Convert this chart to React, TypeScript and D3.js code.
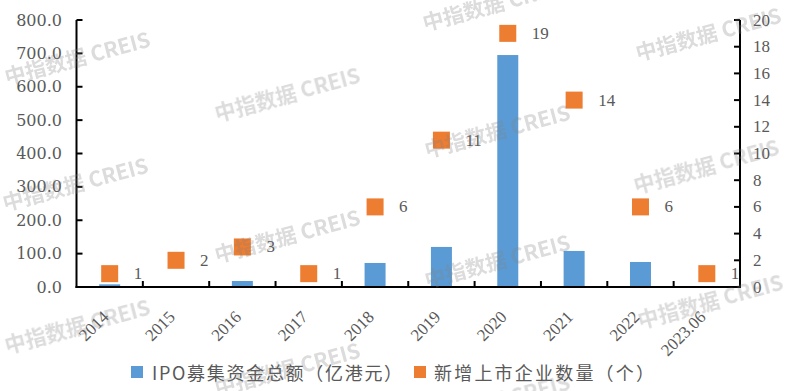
import React from 'react';
import * as d3 from 'd3';

const categories = ['2014', '2015', '2016', '2017', '2018', '2019', '2020', '2021', '2022', '2023.06'];
const ipoAmount = [8, 0, 18, 0, 72, 120, 695, 108, 75, 0];
const newListings = [1, 2, 3, 1, 6, 11, 19, 14, 6, 1];
const leftTicks = [0, 100, 200, 300, 400, 500, 600, 700, 800];
const rightTicks = [0, 2, 4, 6, 8, 10, 12, 14, 16, 18, 20];
const legendLabels = ['IPO募集资金总额（亿港元）', '新增上市企业数量（个）'];
const watermarkText = '中指数据 CREIS';
const watermarks = [
  [77, 57], [287, 93], [495, 3], [708, 33],
  [497, 130], [706, 165], [75, 183], [287, 235],
  [497, 260], [710, 300], [77, 325], [287, 368], [497, 400],
];

const width = 786;
const height = 391;
const plot = { left: 76.5, right: 740, top: 20, bottom: 287 };
const blue = '#5B9BD5';
const orange = '#ED7D31';
const grey = '#595959';
const serif = '"Liberation Serif", "DejaVu Serif", "Noto Sans CJK SC", serif';
const cjk = '"Noto Sans CJK SC", "Liberation Serif", sans-serif';

const App = () => {
  const x = d3.scaleBand().domain(categories).range([plot.left, plot.right]).padding(0);
  const yL = d3.scaleLinear().domain([0, 800]).range([plot.bottom, plot.top]);
  const yR = d3.scaleLinear().domain([0, 20]).range([plot.bottom, plot.top]);
  const fmt = d3.format('.1f');
  const bw = 21;
  const ms = 17;
  const cx = (c) => (x(c) as number) + x.bandwidth() / 2;

  return (
    <svg width={width} height={height} style={{ position: 'absolute', left: 0, top: 0, background: '#fff' }}>
      {/* bars */}
      {categories.map((c, i) => (
        <rect key={'b' + c} x={cx(c) - bw / 2} y={yL(ipoAmount[i])} width={bw}
          height={plot.bottom - yL(ipoAmount[i])} fill={blue} />
      ))}

      {/* axes */}
      <g stroke="#000" strokeWidth={2} fill="none">
        <line x1={plot.left} x2={plot.left} y1={plot.top} y2={plot.bottom + 1} />
        <line x1={plot.right} x2={plot.right} y1={plot.top} y2={plot.bottom + 1} />
        <line x1={plot.left - 1} x2={plot.right + 1} y1={plot.bottom} y2={plot.bottom} />
        {leftTicks.map((t) => (
          <line key={'lt' + t} x1={plot.left} x2={plot.left + 6} y1={yL(t)} y2={yL(t)} />
        ))}
        {rightTicks.map((t) => (
          <line key={'rt' + t} x1={plot.right - 6} x2={plot.right} y1={yR(t)} y2={yR(t)} />
        ))}
        {categories.slice(1).map((c) => (
          <line key={'xt' + c} x1={x(c)} x2={x(c)} y1={plot.bottom} y2={plot.bottom - 6} />
        ))}
      </g>

      <g fontFamily={serif} fontSize={17} fill={grey}>
        {leftTicks.map((t) => (
          <text key={'ll' + t} x={62} y={yL(t)} textAnchor="end" dominantBaseline="central"
            fontFamily='"DejaVu Serif", serif' fontSize={16}>{fmt(t)}</text>
        ))}
        {rightTicks.map((t) => (
          <text key={'rl' + t} x={753} y={yR(t)} dominantBaseline="central">{t}</text>
        ))}
        {categories.map((c) => (
          <text key={'xl' + c} transform={`translate(${cx(c)},318) rotate(-45)`} textAnchor="end">{c}</text>
        ))}
      </g>

      {/* markers + labels */}
      {categories.map((c, i) => (
        <g key={'m' + c}>
          <rect x={cx(c) - ms / 2} y={yR(newListings[i]) - ms / 2} width={ms} height={ms} fill={orange} />
          <text x={cx(c) + 24} y={yR(newListings[i])} dominantBaseline="central"
            fontFamily={serif} fontSize={17} fill={grey}>{newListings[i]}</text>
        </g>
      ))}

      {/* legend */}
      <g fontFamily={cjk} fontSize={18} fill={grey}>
        <rect x={131} y={366} width={12} height={12} fill={blue} />
        <text x={152} y={372} dominantBaseline="central" letterSpacing={1.7}>{legendLabels[0]}</text>
        <rect x={414} y={366} width={12} height={12} fill={orange} />
        <text x={434} y={372} dominantBaseline="central" letterSpacing={2.2}>{legendLabels[1]}</text>
      </g>

      {/* watermark */}
      <g fontFamily={cjk} fontSize={21} fontWeight="bold" fill="#808080" opacity={0.28}>
        {watermarks.map(([wx, wy], i) => (
          <text key={'w' + i} transform={`translate(${wx},${wy}) rotate(-15)`} textAnchor="middle"
            dominantBaseline="central">{watermarkText}</text>
        ))}
      </g>
    </svg>
  );
};

export default App;
